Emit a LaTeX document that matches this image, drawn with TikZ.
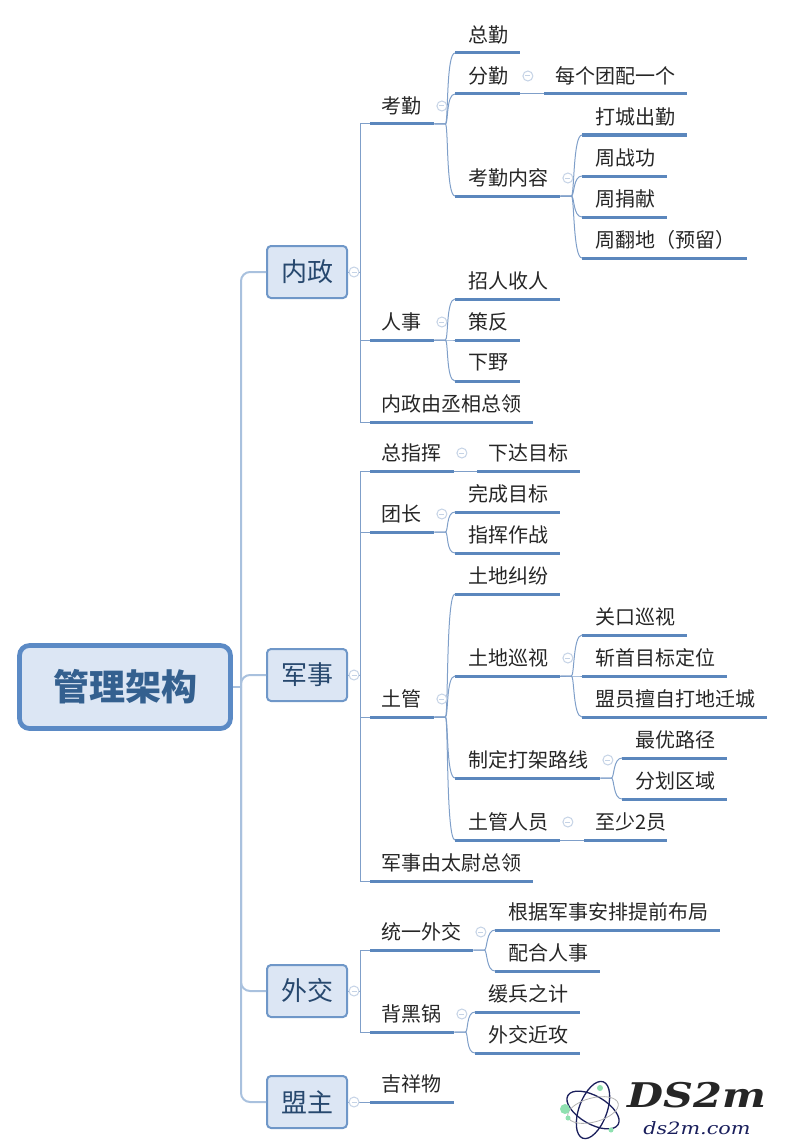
\documentclass[tikz,border=0pt]{standalone}
\usepackage{fontspec}
\setmainfont{Noto Sans CJK SC}
\newfontfamily\logofont[FakeStretch=1.22]{DejaVu Serif}
\usetikzlibrary{calc}
\definecolor{boxfill}{HTML}{DCE6F4}
\definecolor{boxedge}{HTML}{6F97C8}
\definecolor{rootedge}{HTML}{5B8AC5}
\definecolor{roottext}{HTML}{34608F}
\definecolor{boxtext}{HTML}{27486E}
\definecolor{trunkline}{HTML}{A9C1DE}
\definecolor{branchline}{HTML}{7F9FC9}
\definecolor{underline}{HTML}{5B87BD}
\definecolor{iconline}{HTML}{C5D3E6}
\definecolor{logoink}{HTML}{1A1F5C}
\definecolor{logodot}{HTML}{8FE0B0}
\tikzset{
  x=1pt,y=-1pt,
  root/.style={draw=rootedge,fill=boxfill,line width=4.7pt,rounded corners=10pt,
    minimum width=211pt,minimum height=83pt,inner sep=0pt,text=roottext,
    font=\fontsize{36}{40}\selectfont\bfseries},
  mainbox/.style={draw=boxedge,fill=boxfill,line width=2pt,rounded corners=4pt,
    minimum width=80pt,minimum height=52pt,inner sep=0pt,text=boxtext,
    font=\fontsize{26}{30}\selectfont},
  topic/.style={anchor=south west,inner sep=0pt,minimum height=36pt,align=left,
    text=black!85,font=\fontsize{20}{24}\selectfont},
  uline/.style={draw=underline,line width=3pt},
  collapse/.style={circle,draw=iconline,fill=white,line width=1pt,minimum size=10pt,inner sep=0pt,
    path picture={\draw[iconline,line width=1pt] ($(path picture bounding box.center)+(-2.5,0)$) -- ($(path picture bounding box.center)+(2.5,0)$);}},
  trunk/.style={draw=trunkline,line width=2pt,rounded corners=9pt},
  elbow/.style={draw=branchline,line width=1pt,
    to path={-- ($(\tikztostart)+(12,0)$) |- (\tikztotarget)}},
  curve/.style={draw=branchline,line width=1pt,
    to path={-- ($(\tikztostart)+(11,0)$) .. controls ($(\tikztostart)+(14,0)$) and ($(\tikztotarget)+(-9,0)$) .. (\tikztotarget)}},
  orbit/.style={draw=logoink,line width=1.3pt},
  logodotc/.style={fill=logodot,draw=none}
}
\begin{document}
\begin{tikzpicture}
\useasboundingbox (0,0) rectangle (784,1145);

\node[root] (gl) at (125,687) {管理架构};
\node[mainbox] (nz) at (307,272) {内政};
\node[mainbox] (js) at (307,675) {军事};
\node[mainbox] (wj) at (307,991) {外交};
\node[mainbox] (mz) at (307,1102) {盟主};

\foreach \name/\x/\y/\w/\txt in {
  kq/370/124/64/考勤, rs/370/340/64/人事, nzl/370/422/163/内政由丞相总领,
  mr/544/94/143/每个团配一个,
  zzh/370/471/84/总指挥, xd/477/471/103/下达目标, tz/370/532/64/团长,
  tg/370/717/64/土管, sb/584/840/83/至少2员, jsl/370/881/163/军事由太尉总领,
  tw/370/950/103/统一外交, bh/370/1032/84/背黑锅, jx/370/1102/84/吉祥物}
{
  \node[topic,text width=\w pt] (\name) at (\x,\y) {\hspace*{11pt}\txt};
  \draw[uline] (\name.south west) -- (\name.south east);
}

\foreach \name/\x/\y/\w/\txt in {
  zq/455/53/65/总勤, fq/455/94/65/分勤, nr/455/196/105/考勤内容,
  dc/582/135/105/打城出勤, zg/582/176/85/周战功, jx1/582/217/85/周捐献, ff/582/258/165/周翻地（预留）,
  zr/455/299/105/招人收人, cf/455/340/65/策反, xy/455/381/65/下野,
  wc/455/512/105/完成目标, zh/455/553/105/指挥作战,
  jf/455/594/105/土地纠纷, xs/455/676/105/土地巡视, tl/455/778/145/制定打架路线, ry/455/840/105/土管人员,
  gk/582/635/105/关口巡视, dw/582/676/145/斩首目标定位, mc/582/717/185/盟员擅自打地迁城,
  yl/622/758/105/最优路径, hf/622/799/105/分划区域,
  gj/495/930/225/根据军事安排提前布局, ph/495/971/105/配合人事,
  hb/475/1012/105/缓兵之计, jg/475/1053/105/外交近攻}
{
  \node[topic,text width=\w pt] (\name) at (\x,\y) {\hspace*{13pt}\txt};
  \draw[uline] (\name.south west) -- (\name.south east);
}

\coordinate (hub) at (241,687);
\draw[trunkline,line width=2pt] (gl.east) -- (hub);
\foreach \b in {nz,js,wj,mz}
  \draw[trunk] (hub) |- (\b.west);

\foreach \a/\b in {nz/kq, nz/rs, nz/nzl, js/zzh, js/tz, js/tg, js/jsl, wj/tw, wj/bh}
  \draw[elbow] (\a.east) to (\b.south west);
\draw[branchline,line width=1pt] (mz.east) -- (jx.south west);

\foreach \a/\b in {kq/zq, kq/fq, kq/nr, nr/dc, nr/zg, nr/jx1, nr/ff, rs/zr, rs/cf, rs/xy,
  tz/wc, tz/zh, tg/jf, tg/xs, tg/tl, tg/ry, xs/gk, xs/dw, xs/mc, tl/yl, tl/hf,
  tw/gj, tw/ph, bh/hb, bh/jg}
  \draw[curve] (\a.south east) to (\b.south west);
\foreach \a/\b in {fq/mr, zzh/xd, ry/sb}
  \draw[branchline,line width=1pt] (\a.south east) -- (\b.south west);

\foreach \p in {nz,js,wj,mz}
  \node[collapse] (i\p) at ($(\p.east)+(6,0)$) {};
\foreach \p in {kq,fq,nr,rs,zzh,tz,tg,xs,tl,ry,tw,bh}
  \node[collapse] (i\p) at ($(\p.south east)+(7.5,-18)$) {};

\draw[orbit,rotate around={-30:(593,1110)}] (593,1110) ellipse (29pt and 14pt);
\draw[orbit,rotate around={70:(593,1110)}] (593,1110) ellipse (30pt and 14pt);
\draw[black!30,line width=.8pt,rotate around={15:(593,1110)}] (593,1110) ellipse (26pt and 12pt);
\fill[logodotc] (600,1088) circle (3pt);
\fill[logodotc] (565,1109) circle (5pt);
\fill[logodotc] (568,1118) circle (2.5pt);
\fill[logodotc] (611,1130) circle (2.5pt);
\node[font=\logofont\fontsize{34}{36}\selectfont\bfseries\itshape,text=black!85,inner sep=0pt] (logo) at (697,1095) {DS2m};
\node[font=\logofont\fontsize{17}{20}\selectfont\itshape,text=logoink,inner sep=0pt] (site) at (697,1128) {ds2m.com};
\end{tikzpicture}
\end{document}
